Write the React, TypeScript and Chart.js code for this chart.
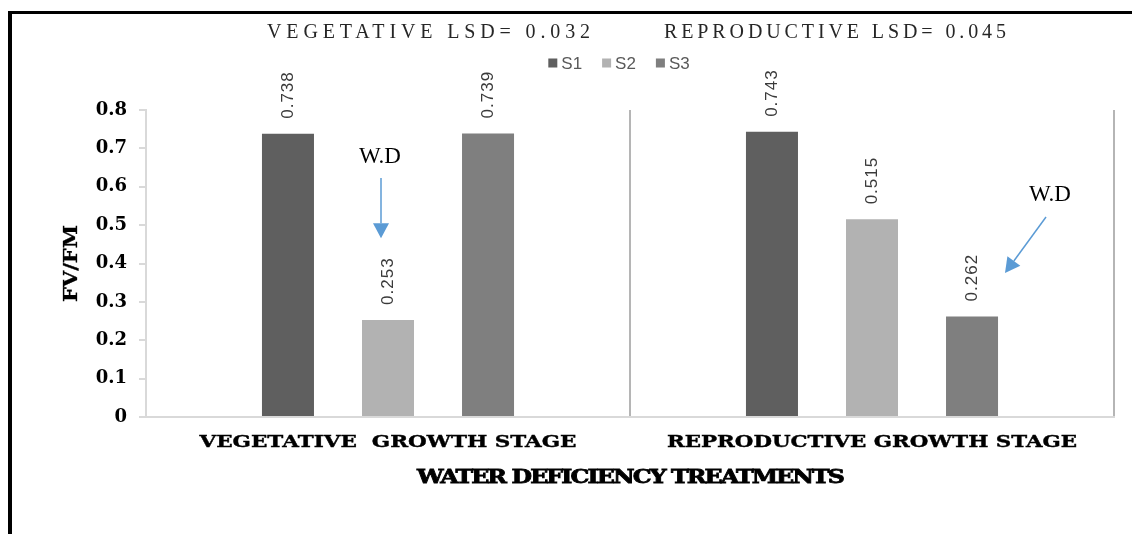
import React, { useEffect, useRef } from 'react';
import { Chart, registerables } from 'chart.js';

Chart.register(...registerables);

// ---- data ----
const categories = ['VEGETATIVE  GROWTH STAGE', 'REPRODUCTIVE GROWTH STAGE'];
const seriesNames = ['S1', 'S2', 'S3'];
const s1Values = [0.738, 0.743];
const s2Values = [0.253, 0.515];
const s3Values = [0.739, 0.262];
const yTickValues = [0, 0.1, 0.2, 0.3, 0.4, 0.5, 0.6, 0.7, 0.8];
const yTickLabels = ['0', '0.1', '0.2', '0.3', '0.4', '0.5', '0.6', '0.7', '0.8'];
const lsdTitles = ['VEGETATIVE LSD= 0.032', 'REPRODUCTIVE LSD= 0.045'];
const xTitle = 'WATER DEFICIENCY TREATMENTS';
const yTitle = 'FV/FM';
const annotationText = 'W.D';

// ---- styles ----
const seriesColors = ['#5f5f5f', '#b2b2b2', '#7f7f7f'];
const arrowColor = '#5b9bd5';
// annotation layout: x offset (px) from category centre, y in data units
const annotations = [
  { cat: 0, textDx: -8, textV: 0.6775, fromDx: -7, fromV: 0.623, toDx: -7, toV: 0.466 },
  { cat: 1, textDx: 178, textV: 0.5785, fromDx: 174, fromV: 0.521, toDx: 133, toV: 0.375 },
];

function spacedText(ctx: CanvasRenderingContext2D, text: string, left: number, cy: number, width: number, font: string, color: string) {
  ctx.save();
  ctx.font = font;
  (ctx as any).letterSpacing = '0px';
  const w = ctx.measureText(text).width;
  const sp = (width - w) / (text.length - 1);
  (ctx as any).letterSpacing = sp + 'px';
  ctx.fillStyle = color;
  ctx.textAlign = 'left';
  ctx.textBaseline = 'middle';
  ctx.fillText(text, left, cy);
  ctx.restore();
}

function fittedText(
  ctx: CanvasRenderingContext2D,
  text: string,
  cx: number,
  cy: number,
  width: number,
  font: string,
  color: string,
  rotate = false,
  spacing = 0,
  stroke = 0,
) {
  ctx.save();
  ctx.font = font;
  (ctx as any).letterSpacing = spacing + 'px';
  const w = ctx.measureText(text).width;
  ctx.translate(cx, cy);
  if (rotate) ctx.rotate(-Math.PI / 2);
  ctx.scale(width / w, 1);
  ctx.fillStyle = color;
  ctx.textAlign = 'center';
  ctx.textBaseline = 'middle';
  ctx.fillText(text, 0, 0);
  if (stroke > 0) {
    ctx.strokeStyle = color;
    ctx.lineWidth = stroke;
    ctx.strokeText(text, 0, 0);
  }
  ctx.restore();
}

const decorPlugin = {
  id: 'decor',
  afterDatasetsDraw(chart: any) {
    const ctx: CanvasRenderingContext2D = chart.ctx;
    chart.data.datasets.forEach((ds: any, di: number) => {
      const meta = chart.getDatasetMeta(di);
      meta.data.forEach((bar: any, i: number) => {
        const v = ds.data[i] as number;
        ctx.save();
        ctx.translate(bar.x, bar.y - 15);
        ctx.rotate(-Math.PI / 2);
        ctx.font = '17px "Liberation Sans"';
        (ctx as any).letterSpacing = '1px';
        ctx.fillStyle = '#3a3a3a';
        ctx.textAlign = 'left';
        ctx.textBaseline = 'middle';
        ctx.fillText(v.toFixed(3), 0, 0);
        ctx.restore();
      });
    });
  },
  afterDraw(chart: any) {
    const ctx: CanvasRenderingContext2D = chart.ctx;
    const xs = chart.scales.x;
    const ys = chart.scales.y;
    const area = chart.chartArea;

    // frame
    ctx.save();
    ctx.fillStyle = '#000';
    ctx.fillRect(8, 11, 1124, 3);
    ctx.fillRect(8, 11, 4, 523);
    ctx.restore();

    // LSD titles
    spacedText(ctx, lsdTitles[0], 267, 33, 323, '20px "Liberation Serif"', '#262626');
    spacedText(ctx, lsdTitles[1], 664, 33, 342, '20px "Liberation Serif"', '#262626');

    // legend
    ctx.save();
    ctx.font = '17px "Liberation Sans"';
    const box = 9;
    const gapBox = 4;
    const gapItem = 20;
    const widths = seriesNames.map((n) => box + gapBox + ctx.measureText(n).width);
    const total = widths.reduce((a, b) => a + b, 0) + gapItem * (seriesNames.length - 1);
    let lx = 619 - total / 2;
    const ly = 64;
    seriesNames.forEach((n, i) => {
      ctx.fillStyle = chart.data.datasets[i].backgroundColor;
      ctx.fillRect(lx, ly - box / 2 - 1, box, box);
      ctx.fillStyle = '#595959';
      ctx.textAlign = 'left';
      ctx.textBaseline = 'middle';
      ctx.fillText(n, lx + box + gapBox, ly);
      lx += widths[i] + gapItem;
    });
    ctx.restore();

    // category labels
    const labelWidths = [377, 410];
    categories.forEach((c, i) => {
      fittedText(ctx, c, xs.getPixelForValue(i), area.bottom + 26, labelWidths[i], 'bold 17px "DejaVu Serif"', '#000', false, 0, 0.4);
    });

    // axis titles
    fittedText(ctx, xTitle, (area.left + area.right) / 2, area.bottom + 61, 426, 'bold 19px "DejaVu Serif"', '#000', false, -1.5, 0.8);
    fittedText(ctx, yTitle, 72, (area.top + area.bottom) / 2, 77, 'bold 18px "DejaVu Serif"', '#000', true, 0, 0.3);

    // annotations
    annotations.forEach((a) => {
      const cx = xs.getPixelForValue(a.cat);
      ctx.save();
      ctx.font = '23px "Liberation Serif"';
      ctx.fillStyle = '#000';
      ctx.textAlign = 'center';
      ctx.textBaseline = 'middle';
      ctx.fillText(annotationText, cx + a.textDx, ys.getPixelForValue(a.textV));
      const x1 = cx + a.fromDx;
      const y1 = ys.getPixelForValue(a.fromV);
      const x2 = cx + a.toDx;
      const y2 = ys.getPixelForValue(a.toV);
      const ang = Math.atan2(y2 - y1, x2 - x1);
      const head = 15;
      const half = 8;
      const bx = x2 - head * Math.cos(ang);
      const by = y2 - head * Math.sin(ang);
      ctx.strokeStyle = arrowColor;
      ctx.lineWidth = 1.5;
      ctx.beginPath();
      ctx.moveTo(x1, y1);
      ctx.lineTo(bx, by);
      ctx.stroke();
      ctx.fillStyle = arrowColor;
      ctx.beginPath();
      ctx.moveTo(x2, y2);
      ctx.lineTo(bx + half * Math.sin(ang), by - half * Math.cos(ang));
      ctx.lineTo(bx - half * Math.sin(ang), by + half * Math.cos(ang));
      ctx.closePath();
      ctx.fill();
      ctx.restore();
    });
  },
};

export default function App() {
  const ref = useRef<HTMLCanvasElement | null>(null);
  useEffect(() => {
    if (!ref.current) return;
    const seriesValues = [s1Values, s2Values, s3Values];
    const chart = new Chart(ref.current, {
      type: 'bar',
      data: {
        labels: categories,
        datasets: seriesNames.map((n, i) => ({
          label: n,
          data: seriesValues[i],
          backgroundColor: seriesColors[i],
          borderWidth: 0,
          categoryPercentage: 0.62,
          barPercentage: 0.52,
        })),
      },
      options: {
        responsive: false,
        animation: false,
        devicePixelRatio: 1,
        layout: { padding: { left: 0, top: 110, right: 18, bottom: 117 } },
        plugins: { legend: { display: false }, tooltip: { enabled: false }, title: { display: false } },
        scales: {
          x: {
            ticks: { display: false },
            grid: {
              display: true,
              offset: true,
              drawOnChartArea: true,
              drawTicks: false,
              lineWidth: 2,
              color: (c: any) => (c.index === 0 ? 'rgba(0,0,0,0)' : '#b5b5b5'),
            },
            border: { display: true, color: '#d9d9d9', width: 2 },
            afterFit: (s: any) => { s.height = 0; },
          },
          y: {
            min: 0,
            max: 0.8,
            afterBuildTicks: (s: any) => { s.ticks = yTickValues.map((v) => ({ value: v })); },
            ticks: {
              padding: 12,
              color: '#000',
              font: { family: '"DejaVu Serif"', weight: 'bold', size: 18 },
              callback: (_v: any, i: number) => yTickLabels[i],
            },
            grid: { display: true, drawOnChartArea: false, tickLength: 7, color: '#d9d9d9', lineWidth: 2 },
            border: { display: true, color: '#d9d9d9', width: 2 },
            afterFit: (s: any) => { s.width = 146; },
          },
        },
      },
      plugins: [decorPlugin],
    } as any);
    return () => chart.destroy();
  }, []);
  return (
    <div style={{ position: 'absolute', left: 0, top: 0, width: 1132, height: 534, background: '#fff' }}>
      <canvas ref={ref} width={1132} height={534} style={{ display: 'block' }} />
    </div>
  );
}
